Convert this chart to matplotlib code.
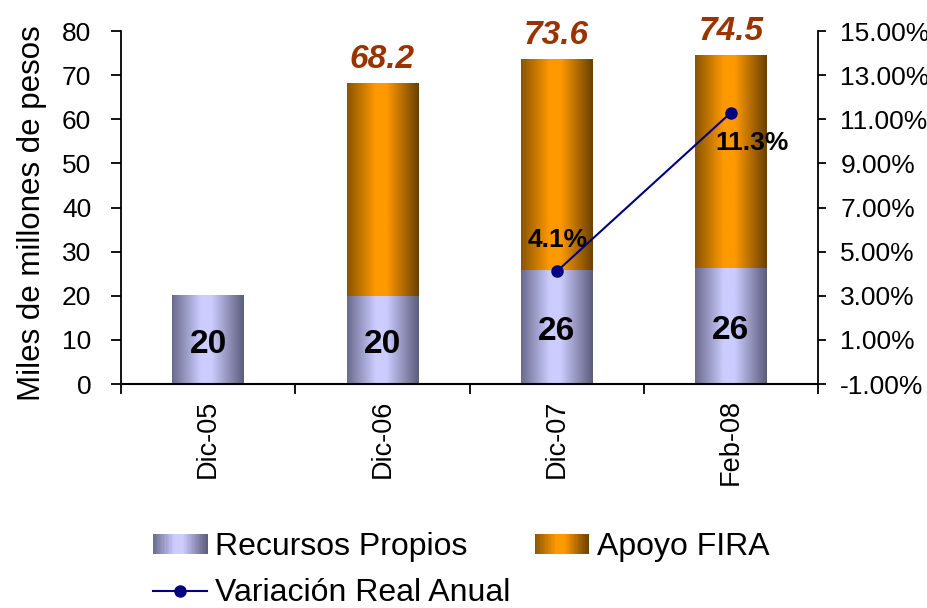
import numpy as np
import matplotlib
matplotlib.use('Agg')
import matplotlib.pyplot as plt
from matplotlib.colors import LinearSegmentedColormap
from matplotlib.legend_handler import HandlerBase
from matplotlib.patches import Rectangle
from matplotlib.lines import Line2D
from matplotlib.ticker import FuncFormatter

plt.rcParams['font.family'] = ['Liberation Sans', 'DejaVu Sans']

# Data
periods = ['Dic-05', 'Dic-06', 'Dic-07', 'Feb-08']
recursos_propios = [20, 20, 25.8, 26.3]
apoyo_fira = [0, 48.2, 47.8, 48.2]
variacion_periods = ['Dic-07', 'Feb-08']
variacion = [4.1, 11.3]

# Horizontal "cylinder" gradients like the original spreadsheet bars
cmap_propios = LinearSegmentedColormap.from_list(
    'propios', [(0, '#6a6a8e'), (0.4, '#ccccff'), (0.55, '#ccccff'), (1, '#5c5c7c')])
cmap_fira = LinearSegmentedColormap.from_list(
    'fira', [(0, '#8a5500'), (0.4, '#ff9900'), (0.55, '#ff9900'), (1, '#6a4000')])


def gradient_fill(ax, bars, cmap):
    grad = np.linspace(0, 1, 256).reshape(1, -1)
    for bar in bars:
        if bar.get_height() <= 0:
            continue
        x0, y0 = bar.get_x(), bar.get_y()
        ax.imshow(grad, cmap=cmap, aspect='auto', interpolation='bilinear',
                  extent=[x0, x0 + bar.get_width(), y0, y0 + bar.get_height()],
                  zorder=2)
        bar.set_facecolor('none')


class GradientHandler(HandlerBase):
    def __init__(self, cmap):
        super().__init__()
        self.cmap = cmap

    def create_artists(self, legend, orig_handle, xdescent, ydescent,
                       width, height, fontsize, trans):
        n = 40
        out = []
        for i in range(n):
            r = Rectangle((-xdescent + i * width / n, -ydescent), width / n + 0.3, height,
                          facecolor=self.cmap((i + 0.5) / n), edgecolor='none',
                          transform=trans)
            out.append(r)
        return out


fig = plt.figure(figsize=(9.28, 6.08), dpi=100)
ax = fig.add_axes([0.1304, 0.3684, 0.7511, 0.5806])
x = np.arange(len(periods))
width = 0.41

b1 = ax.bar(x, recursos_propios, width, zorder=2)
b2 = ax.bar(x, apoyo_fira, width, bottom=recursos_propios, zorder=2)
gradient_fill(ax, b1, cmap_propios)
gradient_fill(ax, b2, cmap_fira)

ax.set_xlim(-0.5, len(periods) - 0.5)
ax.set_ylim(0, 80)
ax.set_yticks(range(0, 81, 10))
ax.set_xticks(x)
ax.set_xticklabels(periods, rotation=90, fontsize=19.5)
ax.set_xticks(np.arange(-0.5, len(periods), 1), minor=True)
ax.tick_params(axis='x', which='major', length=0, pad=11)
ax.tick_params(axis='x', which='minor', length=7, width=1.3, direction='out')
ax.tick_params(axis='y', labelsize=19, length=7.5, width=1.3, direction='out', pad=14)
ax.set_ylabel('Miles de millones de pesos', fontsize=22.5)
ax.yaxis.set_label_coords(-0.106, 0.485)
for s in ['top', 'right']:
    ax.spines[s].set_visible(False)
ax.spines['left'].set_linewidth(1.3)
ax.spines['bottom'].set_linewidth(1.5)

# Value labels
for i, (rp, af) in enumerate(zip(recursos_propios, apoyo_fira)):
    ax.annotate(f'{rp:.0f}', (i, rp / 2), xytext=(0, -3), textcoords='offset points',
                ha='center', va='center', fontsize=24, fontweight='bold', zorder=6)
    if af > 0:
        ax.annotate(f'{rp + af:.1f}', (i, rp + af), xytext=(0, 6),
                    textcoords='offset points', ha='center', va='bottom',
                    fontsize=24, fontweight='bold', fontstyle='italic', color='#993300')

# Secondary axis: annual real variation
ax2 = ax.twinx()
ax2.set_ylim(-1, 15)
ax2.set_yticks(np.arange(-1, 16, 2))
ax2.yaxis.set_major_formatter(FuncFormatter(lambda v, p: f'{v:.2f}%'))
ax2.tick_params(axis='y', labelsize=19, length=6, width=1.3, direction='out', pad=10)
for s in ['top', 'left', 'bottom']:
    ax2.spines[s].set_visible(False)
ax2.spines['right'].set_linewidth(1.3)

xv = [periods.index(p) for p in variacion_periods]
ax2.plot(xv, variacion, color='#000080', lw=1.5, marker='o', markersize=8, zorder=4)
ax2.annotate(f'{variacion[0]}%', (xv[0], variacion[0]), xytext=(1, 23),
             textcoords='offset points', ha='center', va='center',
             fontsize=19, fontweight='bold')
ax2.annotate(f'{variacion[1]}%', (xv[1], variacion[1]), xytext=(15, -22),
             textcoords='offset points', ha='center', va='center',
             fontsize=19, fontweight='bold')

# Legend
h_rp = Rectangle((0, 0), 1, 1)
h_af = Rectangle((0, 0), 1, 1)
h_var = Line2D([], [], color='#000080', lw=1.5, marker='o', markersize=8)
fig.legend([h_rp, h_var, h_af],
           ['Recursos Propios', 'Variación Real Anual', 'Apoyo FIRA'],
           handler_map={h_rp: GradientHandler(cmap_propios),
                        h_af: GradientHandler(cmap_fira)},
           ncol=2, loc='center', bbox_to_anchor=(0.497, 0.062), frameon=False,
           fontsize=23, handlelength=1.7, handleheight=0.6, handletextpad=0.25,
           columnspacing=0.75, labelspacing=0.5, borderpad=0.2)

fig.savefig('out.png', dpi=100)
